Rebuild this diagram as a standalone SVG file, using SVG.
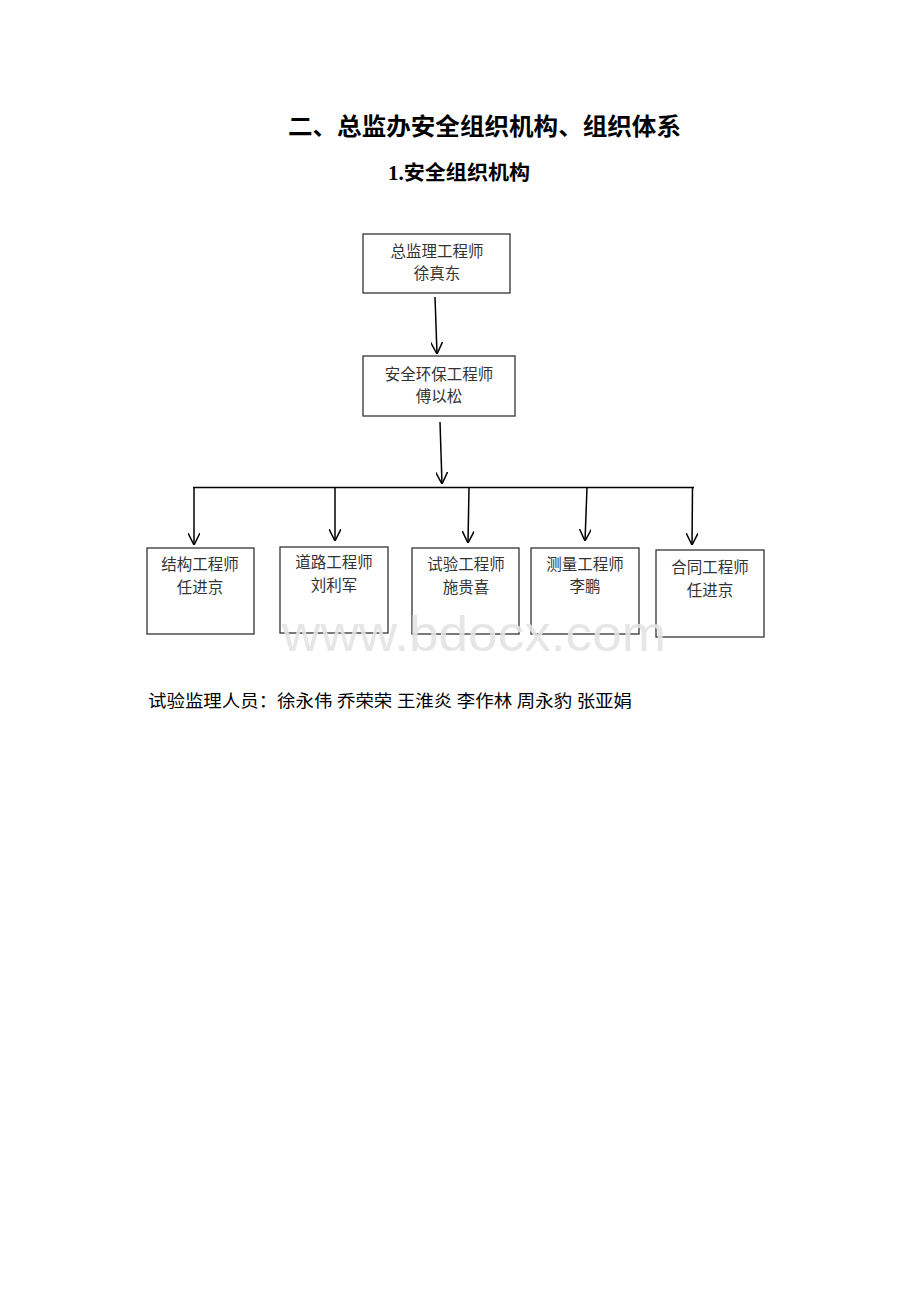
<svg xmlns="http://www.w3.org/2000/svg" width="920" height="1302" viewBox="0 0 920 1302">
<style>
.box{fill:#fff;stroke:#333;stroke-width:1.3}
.bt{font-family:"Noto Sans CJK SC",sans-serif;font-size:15.5px;fill:#333;text-anchor:middle}
.ln{stroke:#000;stroke-width:1.5;fill:none}
.hd{font-family:"Liberation Serif","Noto Sans CJK SC",serif;font-weight:bold;fill:#000}
</style>
<defs>
<marker id="ah" viewBox="0 0 12 12" refX="12" refY="6" markerWidth="12" markerHeight="12" markerUnits="userSpaceOnUse" orient="auto">
<path d="M0,0 L12,6 L0,12" fill="none" stroke="#000" stroke-width="1.5"/>
</marker>
</defs>
<rect width="920" height="1302" fill="#fff"/>
<text class="hd" x="288" y="135" font-size="23.5" textLength="393" lengthAdjust="spacingAndGlyphs">二、总监办安全组织机构、组织体系</text>
<text class="hd" x="388" y="180" font-size="20.5" textLength="142" lengthAdjust="spacingAndGlyphs">1.安全组织机构</text>
<g id="connectors">
<line class="ln" x1="435" y1="297" x2="437" y2="354" marker-end="url(#ah)"/>
<line class="ln" x1="440" y1="422" x2="442" y2="484" marker-end="url(#ah)"/>
<line class="ln" x1="193" y1="487.5" x2="694" y2="487.5"/>
<line class="ln" x1="194" y1="487.5" x2="194" y2="545" marker-end="url(#ah)"/>
<line class="ln" x1="335" y1="487.5" x2="335" y2="541" marker-end="url(#ah)"/>
<line class="ln" x1="469" y1="487.5" x2="468" y2="543" marker-end="url(#ah)"/>
<line class="ln" x1="587" y1="487.5" x2="585" y2="541" marker-end="url(#ah)"/>
<line class="ln" x1="692.5" y1="487.5" x2="692" y2="545" marker-end="url(#ah)"/>
</g>
<g id="n1">
<rect class="box" x="363" y="234" width="147" height="59"/>
<text class="bt" x="437" y="257">总监理工程师</text>
<text class="bt" x="437" y="279">徐真东</text>
</g>
<g id="n2">
<rect class="box" x="363" y="356" width="152" height="60"/>
<text class="bt" x="439" y="380">安全环保工程师</text>
<text class="bt" x="439" y="402">傅以松</text>
</g>
<g id="n3">
<rect class="box" x="147" y="548" width="107" height="86"/>
<text class="bt" x="200" y="570">结构工程师</text>
<text class="bt" x="200" y="593">任进京</text>
</g>
<g id="n4">
<rect class="box" x="280" y="547" width="108" height="86"/>
<text class="bt" x="334" y="568">道路工程师</text>
<text class="bt" x="334" y="591">刘利军</text>
</g>
<g id="n5">
<rect class="box" x="412" y="548" width="107" height="86"/>
<text class="bt" x="466" y="570">试验工程师</text>
<text class="bt" x="466" y="593">施贵喜</text>
</g>
<g id="n6">
<rect class="box" x="531" y="548" width="108" height="86"/>
<text class="bt" x="585" y="570">测量工程师</text>
<text class="bt" x="585" y="592">李鹏</text>
</g>
<g id="n7">
<rect class="box" x="656" y="550" width="108" height="87"/>
<text class="bt" x="710" y="573">合同工程师</text>
<text class="bt" x="710" y="596">任进京</text>
</g>
<text x="148" y="707" font-family="Liberation Serif,'Noto Sans CJK SC',serif" font-size="17" fill="#000" textLength="484" lengthAdjust="spacingAndGlyphs">试验监理人员：徐永伟 乔荣荣 王淮炎 李作林 周永豹 张亚娟</text>
<text x="282" y="651" font-family="Liberation Sans,Arial,sans-serif" font-size="50" fill="#e3e3e3" fill-opacity="0.9" textLength="384" lengthAdjust="spacingAndGlyphs">www.bdocx.com</text>
</svg>
